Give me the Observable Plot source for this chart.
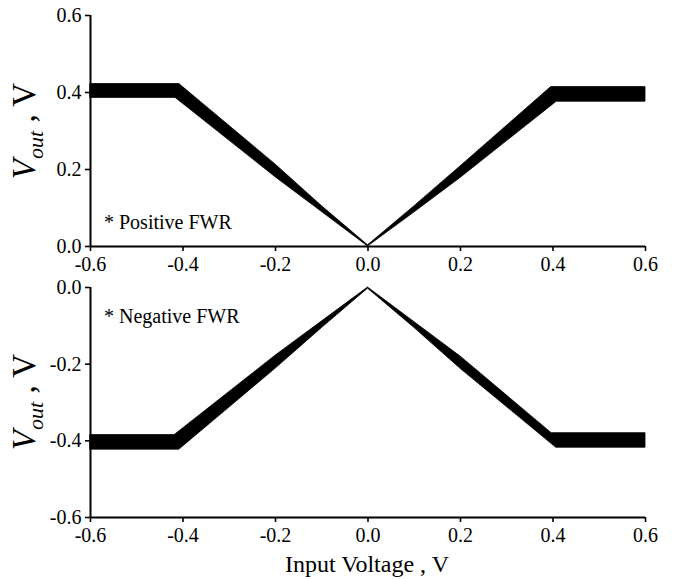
<!DOCTYPE html>
<html>
<head>
<meta charset="utf-8">
<script src="https://cdn.jsdelivr.net/npm/d3@7"></script>
<script src="https://cdn.jsdelivr.net/npm/@observablehq/plot@0.6"></script>
<style>
  html, body { margin: 0; padding: 0; background: #fff; }
  #wrap { position: relative; width: 673px; height: 579px; font-family: "Liberation Serif", "Times New Roman", serif; }
  #top, #bottom { position: absolute; left: 0; }
  #top { top: 0; }
  #bottom { top: 280px; }
  #wrap svg [aria-label$="tick label"] text { font-size: 20px; }
</style>
</head>
<body>
<div id="wrap"><div id="top"></div><div id="bottom"></div></div>
<script>
// ---- Data ----
const xTicks = [-0.6, -0.4, -0.2, 0.0, 0.2, 0.4, 0.6];
const yTicksTop = [0.0, 0.2, 0.4, 0.6];
const yTicksBottom = [-0.6, -0.4, -0.2, 0.0];

// Positive FWR: band edges (upper / lower boundary of the dense output trace)
const posUpperX = [-0.6, -0.408, -0.2, -0.1, 0.0, 0.1, 0.2, 0.396, 0.6];
const posUpperY = [0.422, 0.422, 0.213, 0.105, 0.003, 0.104, 0.208, 0.414, 0.414];
const posLowerX = [-0.6, -0.416, -0.2, -0.1, 0.0, 0.1, 0.2, 0.408, 0.6];
const posLowerY = [0.386, 0.386, 0.180, 0.090, 0.0, 0.088, 0.178, 0.376, 0.376];

// Negative FWR: band edges
const negUpperX = [-0.6, -0.418, -0.2, -0.1, 0.0, 0.1, 0.2, 0.397, 0.6];
const negUpperY = [-0.385, -0.385, -0.178, -0.089, 0.0, -0.090, -0.180, -0.380, -0.380];
const negLowerX = [-0.6, -0.408, -0.2, -0.1, 0.0, 0.1, 0.2, 0.407, 0.6];
const negLowerY = [-0.423, -0.423, -0.212, -0.106, -0.003, -0.105, -0.212, -0.418, -0.418];

const xLabel = "Input Voltage , V";
const topNote = "* Positive FWR";
const bottomNote = "* Negative FWR";

// ---- Build ----
const rows = (ux, uy, lx, ly) => ux.map((x, i) => ({x1: x, y1: uy[i], x2: lx[i], y2: ly[i]}));
const fmt = d => d.toFixed(1);
const FONT = "Liberation Serif, Times New Roman, serif";

function panel(data, yTicks, height, mt, mb) {
  return Plot.plot({
    width: 673,
    height,
    marginLeft: 90,
    marginRight: 28,
    marginTop: mt,
    marginBottom: mb,
    style: {fontFamily: FONT, fontSize: "20px", color: "black", background: "white", overflow: "visible"},
    x: {domain: [xTicks[0], xTicks[xTicks.length - 1]], label: null},
    y: {domain: [yTicks[0], yTicks[yTicks.length - 1]], label: null},
    marks: [
      Plot.area(data, {x1: "x1", y1: "y1", x2: "x2", y2: "y2", fill: "black", stroke: "black", strokeWidth: 0.8}),
      Plot.ruleY([yTicks[0]], {stroke: "black", strokeWidth: 2}),
      Plot.ruleX([xTicks[0]], {stroke: "black", strokeWidth: 2}),
      Plot.axisX(xTicks, {tickSize: 5, tickPadding: 5, strokeWidth: 1.6, tickFormat: fmt, fontSize: 20, label: null}),
      Plot.axisY(yTicks, {tickSize: 5, tickPadding: 4, strokeWidth: 1.6, tickFormat: fmt, fontSize: 20, label: null})
    ]
  });
}

const topPlot = panel(rows(posUpperX, posUpperY, posLowerX, posLowerY), yTicksTop, 280, 15, 34);
const botPlot = panel(rows(negUpperX, negUpperY, negLowerX, negLowerY), yTicksBottom, 299, 7, 62);
document.getElementById("top").appendChild(topPlot);
document.getElementById("bottom").appendChild(botPlot);

function yLabel(svg, cx, cy) {
  const t = d3.select(svg).append("text")
    .attr("transform", `translate(${cx},${cy}) rotate(-90)`)
    .attr("text-anchor", "middle")
    .attr("font-family", FONT)
    .attr("font-size", 33)
    .attr("fill", "black");
  t.append("tspan").attr("font-style", "italic").text("V");
  t.append("tspan").attr("font-style", "italic").attr("font-size", 22).attr("dy", 8).text("out");
  t.append("tspan").attr("dy", -8).text(" , V");
}
function note(svg, x, y, txt) {
  d3.select(svg).append("text")
    .attr("x", x).attr("y", y)
    .attr("text-anchor", "start")
    .attr("font-family", FONT).attr("font-size", 20).attr("fill", "black")
    .text(txt);
}

yLabel(topPlot, 35, 131);
yLabel(botPlot, 35, 402 - 280);
note(topPlot, 104, 229, topNote);
note(botPlot, 104, 323 - 280, bottomNote);
d3.select(botPlot).append("text")
  .attr("x", 367).attr("y", 572 - 280)
  .attr("text-anchor", "middle")
  .attr("font-family", FONT).attr("font-size", 24).attr("fill", "black")
  .text(xLabel);
</script>
</body>
</html>
